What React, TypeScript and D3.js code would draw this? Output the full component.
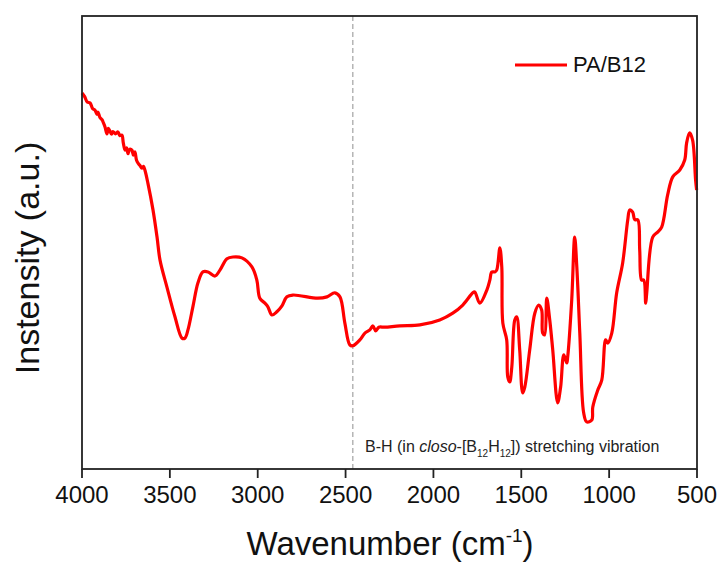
import React from "react";
import * as d3 from "d3";

const wavenumbers = [
  4000, 3985, 3970, 3954, 3940, 3926, 3915, 3909, 3898, 3886, 3878, 3869, 3858, 3850, 3841, 3832, 3824, 3810, 3795, 3785,
  3773, 3765, 3755, 3746, 3738, 3728, 3716, 3708, 3699, 3690, 3681, 3670, 3659, 3650, 3642, 3625, 3596, 3573, 3556, 3517,
  3471, 3431,
  3414, 3397, 3369, 3340, 3312, 3283, 3243, 3215, 3175, 3141, 3090, 3033, 3005, 2988, 2959, 2942, 2919, 2891, 2862, 2834,
  2800, 2658, 2606, 2561, 2532, 2504, 2476, 2459, 2419, 2390, 2362, 2345, 2328, 2311, 2277, 2191, 2077, 1964, 1890, 1833,
  1776, 1765, 1736, 1696, 1679, 1668, 1651, 1640, 1622, 1611, 1605, 1583, 1577, 1566, 1554, 1537, 1526, 1509, 1492, 1480,
  1452, 1423, 1401, 1384, 1378, 1367, 1355, 1338, 1321, 1293, 1276, 1258, 1241, 1236, 1213, 1196, 1184, 1167, 1145, 1128,
  1099, 1093, 1065, 1042, 1020, 1008, 985, 957, 923, 894, 883, 866, 854, 837, 826, 815, 803, 792, 786, 752,
  724, 701, 667, 638, 598, 570, 559, 542, 525, 508, 502,
];
const intensities = [
  83.0, 82.2, 81.0, 80.8, 79.6, 79.2, 78.3, 78.8, 77.6, 77.1, 76.4, 75.5, 74.0, 75.2, 74.6, 73.9, 74.5, 74.0, 74.4, 73.6,
  73.7, 72.0, 70.4, 70.9, 69.6, 70.6, 70.4, 69.3, 70.0, 68.2, 67.5, 67.0, 66.4, 66.8, 66.0, 63.1, 57.2, 51.2, 46.1, 40.2,
  33.6, 28.9,
  28.9, 30.7, 35.8, 41.1, 43.5, 43.5, 42.6, 43.9, 46.4, 46.8, 46.6, 44.6, 41.7, 37.7, 36.6, 35.8, 34.0, 34.7, 36.0, 38.0,
  38.4, 37.7, 38.0, 38.9, 38.0, 32.2, 27.4, 27.2, 28.5, 30.0, 30.7, 31.6, 30.5, 31.3, 31.3, 31.6, 31.8, 32.9, 34.4, 36.2,
  38.9, 39.1, 36.6, 39.5, 41.7, 43.5, 43.5, 43.9, 48.8, 44.6, 32.2, 28.5, 20.3, 19.2, 22.5, 32.9, 33.6, 26.3, 16.8, 18.1,
  26.3, 34.4, 36.2, 35.1, 30.0, 29.6, 37.7, 32.9, 26.3, 14.6, 18.1, 25.2, 23.4, 24.7, 37.3, 51.2, 44.6, 30.0, 12.4, 10.4,
  10.8, 13.7, 17.4, 19.6, 28.5, 27.8, 30.0, 38.9, 45.5, 55.0, 57.2, 56.7, 55.0, 55.0, 48.3, 41.7, 41.7, 36.6, 38.9, 51.2,
  52.3, 53.4, 60.5, 64.5, 66.0, 68.2, 72.0, 74.2, 72.6, 63.8, 61.6,
];
const xTicks = [4000, 3500, 3000, 2500, 2000, 1500, 1000, 500];
const seriesName = "PA/B12";
const markerWavenumber = 2459;

const W = 722;
const H = 567;
const left = 82;
const right = 697;
const top = 16;
const bottom = 469;
const FONT = "Arial, 'Liberation Sans', sans-serif";

export default function App() {
  const x = d3.scaleLinear().domain([4000, 500]).range([left, right]);
  const y = d3.scaleLinear().domain([0, 100]).range([bottom, top]);
  const pts: [number, number][] = wavenumbers.map((w, i) => [w, intensities[i]]);
  const line = d3
    .line<[number, number]>()
    .x((d) => x(d[0]))
    .y((d) => y(d[1]))
    .curve(d3.curveCatmullRom.alpha(0.5));

  return (
    <svg width={W} height={H} style={{ position: "absolute", left: 0, top: 0, background: "#fff" }} fontFamily={FONT}>
      <rect x={0} y={0} width={W} height={H} fill="#fff" />
      <line
        x1={x(markerWavenumber)}
        x2={x(markerWavenumber)}
        y1={top}
        y2={bottom}
        stroke="#b5b5b5"
        strokeWidth={1.5}
        strokeDasharray="5 3"
      />
      <path d={line(pts) || ""} fill="none" stroke="#ff0000" strokeWidth={3.2} strokeLinejoin="round" />
      <rect x={left} y={top} width={right - left} height={bottom - top} fill="none" stroke="#222" strokeWidth={1.8} />
      {xTicks.map((t) => (
        <g key={t}>
          <line x1={x(t)} x2={x(t)} y1={bottom} y2={bottom + 9} stroke="#222" strokeWidth={1.8} />
          <text x={x(t)} y={503} fontSize={24} textAnchor="middle" fill="#111">
            {t}
          </text>
        </g>
      ))}
      <text x={390} y={555} fontSize={33} textAnchor="middle" fill="#111">
        Wavenumber (cm
        <tspan dy={-13} fontSize={19}>-1</tspan>
        <tspan dy={13}>)</tspan>
      </text>
      <text transform={`translate(39,258) rotate(-90)`} fontSize={34} textAnchor="middle" fill="#111">
        Instensity (a.u.)
      </text>
      <line x1={515} x2={567} y1={65} y2={65} stroke="#ff0000" strokeWidth={3.2} />
      <text x={573} y={72} fontSize={22} fill="#111">
        {seriesName}
      </text>
      <text x={365} y={452} fontSize={16} fill="#222">
        B-H (in <tspan fontStyle="italic">closo</tspan>-[B
        <tspan dy={5} fontSize={10}>12</tspan>
        <tspan dy={-5}>H</tspan>
        <tspan dy={5} fontSize={10}>12</tspan>
        <tspan dy={-5}>]) stretching vibration</tspan>
      </text>
    </svg>
  );
}
